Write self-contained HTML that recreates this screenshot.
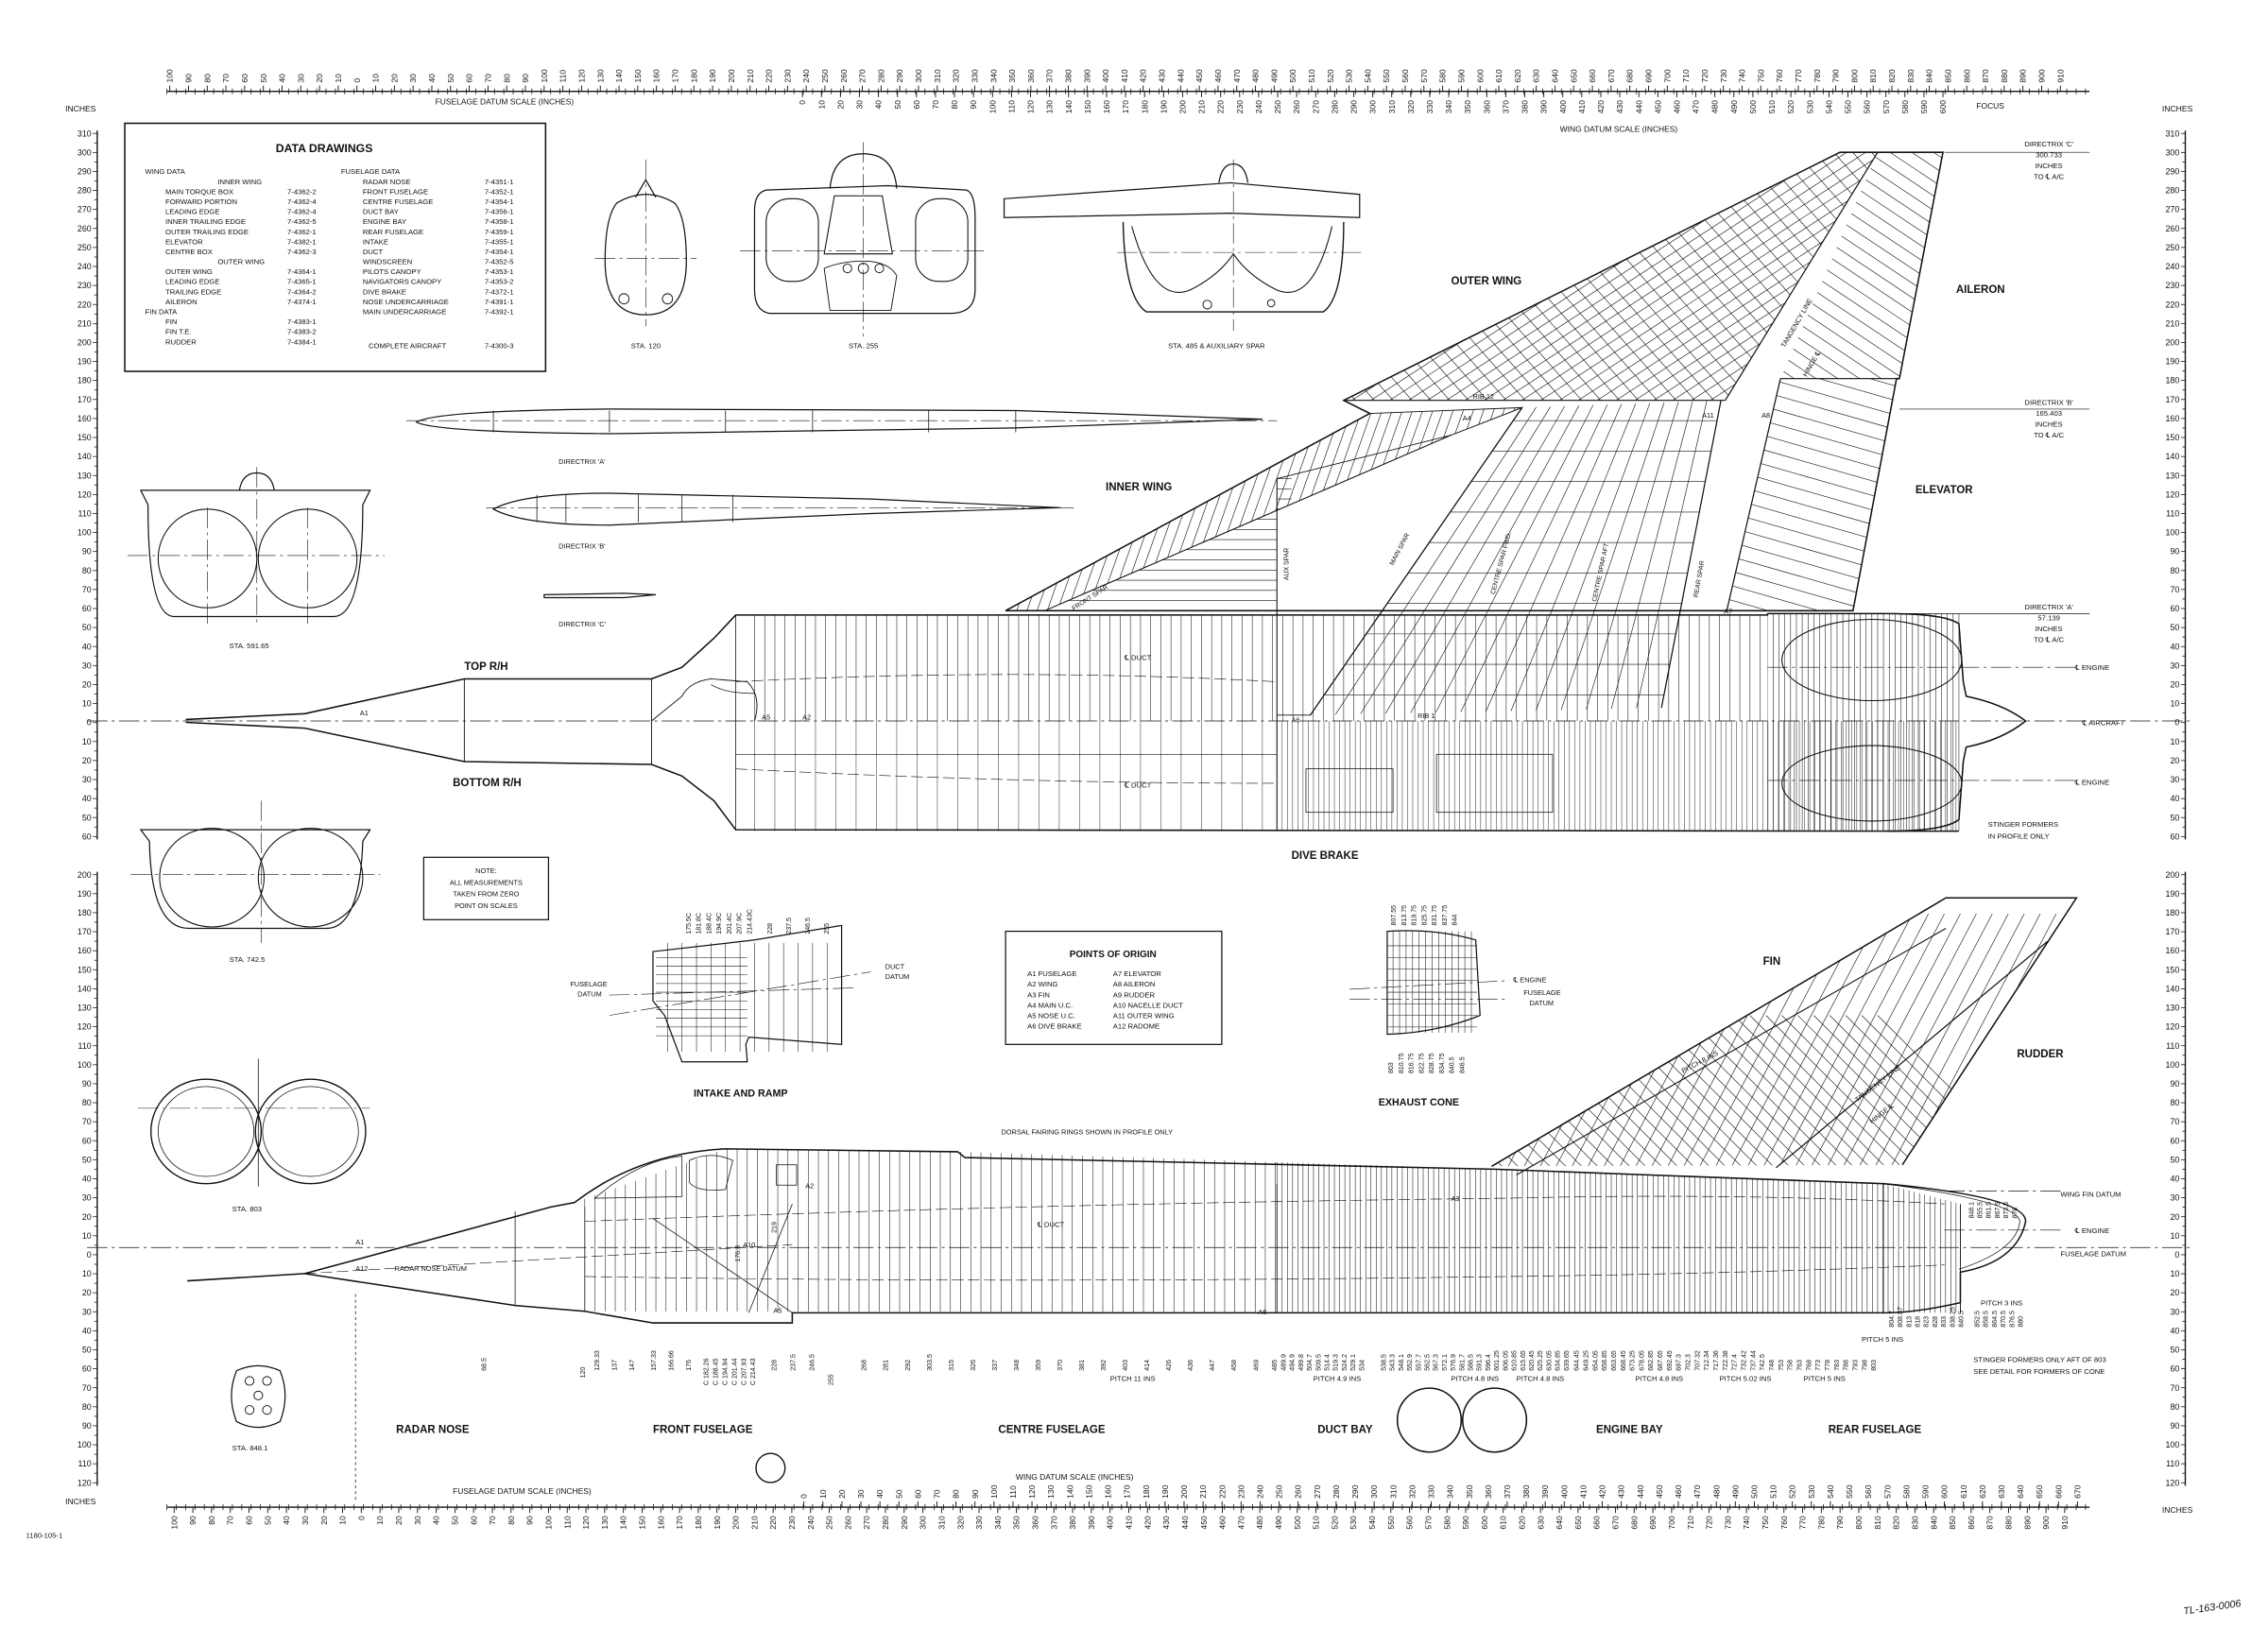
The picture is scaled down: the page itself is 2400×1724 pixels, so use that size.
<!DOCTYPE html>
<html><head><meta charset="utf-8"><style>
html,body{margin:0;padding:0;background:#fff;}
svg{display:block;}
text{font-family:"Liberation Sans",sans-serif;fill:#111;}
.b{font-weight:bold;}
</style></head><body>
<svg id="s" xmlns="http://www.w3.org/2000/svg" width="2400" height="1724" viewBox="0 0 1563 1123" preserveAspectRatio="none">
<rect width="1563" height="1123" fill="#fff"/>
<defs>
<clipPath id="cOuter"><polygon points="926,276 1268,105 1294,105 1189,276"/></clipPath>
<clipPath id="cCentre"><polygon points="903,493 1049,281 1186,276 1145,488"/></clipPath>
<clipPath id="cInnerLE"><polygon points="693,421 944,285 1049,281 1000,300 720,421"/></clipPath>
<clipPath id="cInnerMid"><polygon points="720,421 1000,300 880,330 880,421"/></clipPath>
<clipPath id="cAil"><polygon points="1294,105 1339,105 1309,261 1227,261"/></clipPath>
<clipPath id="cElev"><polygon points="1227,261 1307,261 1277,421 1190,421"/></clipPath>
<clipPath id="cFin"><polygon points="1028,804 1341,619 1431,619 1311,803"/></clipPath>
<clipPath id="cSide"><polygon points="403,904 396,829 500,792 660,794 1030,806 1298,816 1351,830 1351,905"/></clipPath>
<clipPath id="cTopBody"><polygon points="507,424 1218,424 1218,497 507,497"/></clipPath>
<clipPath id="cBotBody"><polygon points="507,497 1350,497 1350,573 507,573"/></clipPath>
<clipPath id="cNoz"><rect x="1218" y="423" width="135" height="150"/></clipPath>
</defs>
<g id="g" fill="none" stroke="#111" stroke-width="0.8"></g>
<g id="t"></g>
</svg>
<script>
var NS="http://www.w3.org/2000/svg",G=document.getElementById('g'),T=document.getElementById('t');
function el(tag,a,p){var e=document.createElementNS(NS,tag);for(var k in a)e.setAttribute(k,a[k]);(p||G).appendChild(e);return e;}
function L(x1,y1,x2,y2,w,extra){var a={x1:x1,y1:y1,x2:x2,y2:y2};if(w)a['stroke-width']=w;if(extra)for(var k in extra)a[k]=extra[k];return el('line',a);}
function P(d,w,extra){var a={d:d};if(w)a['stroke-width']=w;if(extra)for(var k in extra)a[k]=extra[k];return el('path',a);}
function tx(x,y,s,sz,cls,anchor,rot){var a={x:x,y:y,'font-size':sz||5};if(cls)a['class']=cls;if(anchor)a['text-anchor']=anchor;if(rot)a.transform='rotate('+rot+' '+x+' '+y+')';var e=el('text',a,T);e.textContent=s;return e;}
var DASH={'stroke-dasharray':'14 3 2 3'};
var fus=[];for(var v=-100;v<=910;v+=10)fus.push(v);
var wTop=[];for(v=0;v<=600;v+=10)wTop.push(v);
var wBot=[];for(v=0;v<=680;v+=10)wBot.push(v);
(function(){var y=63;L(115,y,1440,y,0.9);for(var x=115;x<=1440;x+=6.45)L(x,y-2,x,y+2,0.5);
 fus.forEach(function(v){var x=246+v*1.29;L(x,y-4,x,y,0.6);tx(x+2,y-6,String(Math.abs(v)),5.6,null,'start',-90);});
 wTop.forEach(function(v){var x=553+v*1.31;L(x,y,x,y+4,0.6);tx(x+2,y+6,String(v),5.6,null,'end',-90);});})();
(function(){var y=1039;L(115,y,1440,y,0.9);for(var x=115;x<=1440;x+=6.45)L(x,y-2,x,y+2,0.5);
 wBot.forEach(function(v){var x=554+v*1.31;if(x>1440)return;L(x,y-4,x,y,0.6);tx(x+2,y-6,String(v),5.6,null,'start',-90);});
 fus.forEach(function(v){var x=249+v*1.29;if(x>1442)return;L(x,y,x,y+4,0.6);tx(x+2,y+6,String(Math.abs(v)),5.6,null,'end',-90);});})();
tx(300,72,'FUSELAGE DATUM SCALE  (INCHES)',5.5);
tx(1075,91,'WING DATUM SCALE  (INCHES)',5.5);
tx(1362,75,'FOCUS',5.5);
tx(700,1020,'WING DATUM SCALE  (INCHES)',5.5);
tx(312,1030,'FUSELAGE DATUM SCALE   (INCHES)',5.5);
function vscale(xl,y0,vmax,vmin){
 var y1=y0+(vmax-vmin)*1.31;L(xl,y0-2,xl,y1+2,0.9);
 for(var v=vmax;v>=vmin;v-=5){var y=y0+(vmax-v)*1.31;L(xl-(v%10==0?3:2),y,xl,y,0.5);}
 for(v=vmax;v>=vmin;v-=10){var y=y0+(vmax-v)*1.31;tx(xl-4,y+2,String(Math.abs(v)),5.8,null,'end');}
}
vscale(67,92,310,-60);vscale(67,603,200,-120);
vscale(1506,92,310,-60);vscale(1506,603,200,-120);
tx(45,77,'INCHES',5.6);tx(1490,77,'INCHES',5.6);
tx(45,1037,'INCHES',5.6);tx(1490,1043,'INCHES',5.6);
tx(18,1060,'1180-105-1',5);
tx(1505,1113,'TL-163-0006',7,null,null,-8).setAttribute('font-style','italic');
el('rect',{x:86,y:85,width:290,height:171,'stroke-width':1});
tx(190,105,'DATA DRAWINGS',8,'b');
var left=[['WING DATA',100,''],['INNER WING',150,''],['MAIN TORQUE BOX',114,'7-4362-2'],['FORWARD PORTION',114,'7-4362-4'],['LEADING EDGE',114,'7-4362-4'],['INNER TRAILING EDGE',114,'7-4362-5'],['OUTER TRAILING EDGE',114,'7-4362-1'],['ELEVATOR',114,'7-4382-1'],['CENTRE BOX',114,'7-4362-3'],['OUTER WING',150,''],['OUTER WING',114,'7-4364-1'],['LEADING EDGE',114,'7-4365-1'],['TRAILING EDGE',114,'7-4364-2'],['AILERON',114,'7-4374-1'],['FIN DATA',100,''],['FIN',114,'7-4383-1'],['FIN T.E.',114,'7-4383-2'],['RUDDER',114,'7-4384-1']];
left.forEach(function(r,i){var y=120+i*6.9;tx(r[1],y,r[0],5);if(r[2])tx(198,y,r[2],5);});
var right=[['FUSELAGE DATA',235,''],['RADAR NOSE',250,'7-4351-1'],['FRONT FUSELAGE',250,'7-4352-1'],['CENTRE FUSELAGE',250,'7-4354-1'],['DUCT BAY',250,'7-4356-1'],['ENGINE BAY',250,'7-4358-1'],['REAR FUSELAGE',250,'7-4359-1'],['INTAKE',250,'7-4355-1'],['DUCT',250,'7-4354-1'],['WINDSCREEN',250,'7-4352-5'],['PILOTS CANOPY',250,'7-4353-1'],['NAVIGATORS CANOPY',250,'7-4353-2'],['DIVE BRAKE',250,'7-4372-1'],['NOSE UNDERCARRIAGE',250,'7-4391-1'],['MAIN UNDERCARRIAGE',250,'7-4392-1']];
right.forEach(function(r,i){var y=120+i*6.9;tx(r[1],y,r[0],5);if(r[2])tx(334,y,r[2],5);});
tx(254,240,'COMPLETE AIRCRAFT',5);tx(334,240,'7-4300-3',5);
P('M425,140 Q445,128 465,140 Q473,150 473,180 Q473,217 445,217 Q417,217 417,180 Q417,150 425,140Z');
P('M438,136 L445,124 L452,136');L(445,110,445,225,0.4,DASH);L(410,178,480,178,0.4,DASH);
el('circle',{cx:430,cy:206,r:3.5,'stroke-width':0.6});el('circle',{cx:460,cy:206,r:3.5,'stroke-width':0.6});
tx(445,240,'STA. 120',5,null,'middle');
P('M528,131 L612,128 L666,131 Q672,133 672,150 L672,200 Q672,216 655,216 L530,216 Q520,214 520,200 L520,145 Q520,133 528,131Z');
P('M572,130 Q574,106 595,106 Q616,106 618,130');
el('rect',{x:528,y:137,width:36,height:57,rx:16,'stroke-width':0.7});el('rect',{x:631,y:137,width:36,height:57,rx:16,'stroke-width':0.7});
P('M575,135 L608,135 L615,175 L568,175Z',0.7);P('M568,185 Q580,180 595,180 Q612,180 618,190 L614,214 L572,214Z',0.6);
el('circle',{cx:584,cy:185,r:3,'stroke-width':0.6});el('circle',{cx:595,cy:185,r:3.5,'stroke-width':0.6});el('circle',{cx:606,cy:185,r:3,'stroke-width':0.6});
L(595,98,595,232,0.4,DASH);L(510,173,680,173,0.4,DASH);
tx(595,240,'STA. 255',5,null,'middle');
P('M692,137 L848,126 L937,134 L937,150 L848,147 L692,150Z');P('M840,126 Q842,113 850,113 Q858,113 860,126');
P('M774,153 Q775,205 790,215 L912,215 Q926,205 926,153',0.9);
P('M780,156 Q795,210 820,200 Q840,190 850,175 Q860,190 880,200 Q905,210 918,156',0.7);
L(850,110,850,228,0.4,DASH);L(770,174,940,174,0.4,DASH);
el('circle',{cx:832,cy:210,r:3,'stroke-width':0.6});el('circle',{cx:876,cy:209,r:2.5,'stroke-width':0.6});
tx(805,240,'STA. 485 & AUXILIARY SPAR',5);
P('M287,291 Q300,283 420,282 L700,283 L870,289 L700,295 L420,299 Q300,298 287,291Z');L(280,290,880,290,0.4,DASH);
[340,420,500,560,640,700].forEach(function(x){L(x,283,x,298,0.5);});
tx(385,320,"DIRECTRIX 'A'",4.8);
P('M340,351 Q360,340 420,340 L600,344 L731,350 L600,354 L420,362 Q360,362 340,351Z');L(335,350,740,350,0.4,DASH);
[370,390,440,470,505].forEach(function(x){L(x,341,x,360,0.5);});
tx(385,378,"DIRECTRIX 'B'",4.8);
P('M375,410 L430,409 L452,410 L430,412 L375,412Z');tx(385,432,"DIRECTRIX 'C'",4.8);
P('M97,338 L255,338 L250,348 Q250,425 230,425 L120,425 Q102,425 102,348Z');P('M165,338 Q167,326 177,326 Q187,326 189,338');
el('ellipse',{cx:143,cy:385,rx:34,ry:34,'stroke-width':0.7});el('ellipse',{cx:212,cy:385,rx:34,ry:34,'stroke-width':0.7});
L(177,322,177,432,0.4,DASH);L(88,383,265,383,0.4,DASH);L(143,350,143,432,0.4,DASH);L(212,350,212,432,0.4,DASH);
tx(158,447,'STA. 591.65',5);
P('M97,572 L255,572 L250,580 Q248,640 225,640 L130,640 Q104,640 103,580Z');
el('ellipse',{cx:146,cy:605,rx:36,ry:34,'stroke-width':0.7});el('ellipse',{cx:214,cy:605,rx:36,ry:34,'stroke-width':0.7});
L(180,552,180,650,0.4,DASH);L(90,603,262,603,0.4,DASH);
tx(158,663,'STA. 742.5',5);
el('ellipse',{cx:142,cy:780,rx:38,ry:36,'stroke-width':0.9});el('ellipse',{cx:214,cy:780,rx:38,ry:36,'stroke-width':0.9});
el('ellipse',{cx:142,cy:780,rx:33,ry:31,'stroke-width':0.5});el('ellipse',{cx:214,cy:780,rx:33,ry:31,'stroke-width':0.5});
L(178,730,178,818,0.5);L(95,764,255,764,0.4,DASH);
tx(160,835,'STA. 803',5);
P('M163,945 Q178,938 193,945 Q200,962 193,980 Q178,988 163,980 Q156,962 163,945Z');
[[172,952],[184,952],[178,962],[172,972],[184,972]].forEach(function(c){el('circle',{cx:c[0],cy:c[1],r:3,'stroke-width':0.6});});
tx(160,1000,'STA. 848.1',5);
L(60,497,1510,497,0.45,DASH);
P('M693,421 L944,285 L926,276 L1268,105 L1339,105 L1309,261 L1307,261 L1277,421 Z',1);
L(926,276,1189,276,0.7);L(1227,261,1309,261,0.7);L(1294,105,1189,276,0.8);L(1186,276,1145,488,0.8);L(1227,261,1190,421,0.8);
L(903,493,1049,281,0.8);L(880,330,880,421,0.7);L(720,421,1000,300,0.7);L(1049,281,944,285,0.6);
function lines(clip,w,fn){var g=el('g',{'clip-path':'url(#'+clip+')','stroke-width':w||0.35});fn(function(x1,y1,x2,y2){el('line',{x1:x1,y1:y1,x2:x2,y2:y2},g);});}
lines('cOuter',0.4,function(l){for(var i=-400;i<400;i+=13){l(900+i,320,1300+i,60);}for(i=-300;i<500;i+=13){l(900+i,60,1130+i,320);}});
lines('cCentre',0.4,function(l){for(var k=0;k<=14;k++){var f=k/14;l(903+(1145-903)*f,493+(488-493)*f,1049+(1186-1049)*f,281+(276-281)*f);}for(var y=290;y<500;y+=21)l(880,y,1200,y);});
lines('cInnerLE',0.4,function(l){for(var i=-300;i<400;i+=7){l(700+i,440,760+i,270);}});
lines('cInnerMid',0.4,function(l){for(var y=330;y<421;y+=7)l(700,y,890,y);});
lines('cAil',0.4,function(l){for(var i=-200;i<200;i+=10){l(1220,120+i,1340,200+i);}});
lines('cElev',0.4,function(l){for(var i=-120;i<220;i+=10){l(1180,250+i,1320,290+i);}});
P('M880,330 L1000,300 L1049,281 L903,493 L880,493',0.6);
P('M128,496 L210,492 L320,468 L449,468 L470,460 L492,440 L507,424 L1218,424 L1218,423',1);
P('M128,498 L210,502 L320,525 L449,527 L470,535 L492,552 L507,572 L1350,573',1);
L(320,468,320,525,0.6);L(449,468,449,527,0.6);L(507,424,507,572,0.5);L(880,421,880,573,0.7);
P('M449,497 L470,480 Q475,470 490,468 L515,470 Q525,480 520,497',0.6);
P('M490,472 Q500,478 520,478',0.5);
lines('cTopBody',0.35,function(l){for(var x=520;x<1218;x+=7)l(x,424,x,497);});
lines('cBotBody',0.3,function(l){for(var x=880;x<1350;x+=3.6)l(x,497,x,573);for(var x=520;x<880;x+=14)l(x,497,x,573);});
L(507,520,880,520,0.4);P('M507,470 Q700,460 880,470',0.4,{'stroke-dasharray':'8 3'});P('M507,530 Q700,540 880,540',0.4,{'stroke-dasharray':'8 3'});
el('rect',{x:900,y:530,width:60,height:30,'stroke-width':0.5});el('rect',{x:990,y:520,width:80,height:40,'stroke-width':0.5});
P('M1218,423 L1300,423 Q1340,423 1350,430 L1353,470 L1355,480 Q1380,485 1396,497 Q1380,510 1355,515 L1353,525 L1350,565 Q1340,573 1300,573',1);
lines('cNoz',0.35,function(l){for(var x=1218;x<1353;x+=4)l(x,423,x,573);});
el('ellipse',{cx:1290,cy:455,rx:62,ry:28,'stroke-width':0.7});el('ellipse',{cx:1290,cy:540,rx:62,ry:26,'stroke-width':0.7});
L(1218,460,1430,460,0.4,DASH);L(1218,538,1430,538,0.4,DASH);
L(60,860,1510,860,0.45,DASH);L(1340,821,1420,821,0.45,DASH);L(1340,848,1420,848,0.45,DASH);
P('M129,883 L210,878 L380,832 L396,829 Q440,795 500,792 L660,794 L665,798 L1030,806',1);
P('M1028,804 L1341,619 L1431,619 L1311,803',1);
P('M1030,806 L1298,816 Q1396,825 1396,842 Q1390,870 1351,877 L1351,898 Q1320,905 1300,905 L546,905 L546,912 L450,912 L403,904 L355,900 L210,878',1);
L(1298,816,1298,905,0.5);L(880,816,880,905,0.6);L(403,832,403,904,0.5);L(355,835,355,900,0.5);L(1351,830,1351,905,0.6);
P('M410,826 Q440,800 470,797 L470,825Z',0.5);P('M475,800 Q490,793 505,800 L500,820 Q480,822 475,815Z',0.5);
el('rect',{x:535,y:803,width:14,height:14,'stroke-width':0.5});
L(450,840,546,905,0.5);L(546,830,516,905,0.5);L(210,878,546,858,0.4,{'stroke-dasharray':'8 3'});
lines('cSide',0.35,function(l){for(var x=403;x<880;x+=7)l(x,790,x,910);for(x=880;x<1351;x+=3.6)l(x,790,x,910);});
lines('cFin',0.4,function(l){for(var i=-300;i<300;i+=11){l(1000+i,700,1200+i,900);}for(i=-200;i<400;i+=11){l(1000+i,820,1100+i,630);}});
L(1411,649,1224,805,0.8);L(1341,640,1045,810,0.7);
P('M1298,816 Q1390,828 1392,842 Q1390,862 1350,875',0.5);
P('M403,842 Q700,830 1040,826 Q1200,822 1340,830',0.4,{'stroke-dasharray':'8 3'});P('M403,880 Q700,885 1040,880 Q1200,878 1340,872',0.4,{'stroke-dasharray':'8 3'});
el('circle',{cx:985,cy:979,r:22,'stroke-width':1});el('circle',{cx:1030,cy:979,r:22,'stroke-width':1});el('circle',{cx:531,cy:1012,r:10,'stroke-width':0.9});
L(245,892,245,1035,0.5,{'stroke-dasharray':'2 2'});
el('rect',{x:292,y:591,width:86,height:43,'stroke-width':0.8});
tx(335,602,'NOTE:',4.8,null,'middle');tx(335,610,'ALL MEASUREMENTS',4.8,null,'middle');tx(335,618,'TAKEN FROM ZERO',4.8,null,'middle');tx(335,626,'POINT ON SCALES',4.8,null,'middle');
el('rect',{x:693,y:642,width:149,height:78,'stroke-width':0.8});
tx(767,660,'POINTS OF ORIGIN',6.5,'b','middle');
var po=[['A1 FUSELAGE','A7 ELEVATOR'],['A2 WING','A8 AILERON'],['A3 FIN','A9 RUDDER'],['A4 MAIN U.C.','A10 NACELLE DUCT'],['A5 NOSE U.C.','A11 OUTER WING'],['A6 DIVE BRAKE','A12 RADOME']];
po.forEach(function(r,i){tx(708,673+i*7.2,r[0],5);tx(767,673+i*7.2,r[1],5);});
P('M450,656 L520,648 L580,638 L580,720 L516,715 L514,720 L515,732 L470,732 L458,700 L450,690Z',0.8);
(function(){var g=el('g',{'stroke-width':0.35});for(var x=460;x<580;x+=10)el('line',{x1:x,y1:650,x2:x,y2:725},g);for(var y=660;y<720;y+=6)el('line',{x1:452,y1:y,x2:515,y2:y},g);})();
L(420,686,590,681,0.4,DASH);L(420,700,600,670,0.4,DASH);
tx(393,680,'FUSELAGE',4.8);tx(398,687,'DATUM',4.8);tx(610,668,'DUCT',4.8);tx(610,675,'DATUM',4.8);
var iv=['175.5C','181.8C','188.4C','194.9C','201.4C','207.9C','214.43C'];iv.forEach(function(s,i){tx(476+i*7,644,s,4.6,null,'start',-90);});
['228','237.5','246.5','255'].forEach(function(s,i){tx(532+i*13,644,s,4.6,null,'start',-90);});
tx(478,756,'INTAKE AND RAMP',7,'b');
P('M956,642 Q990,640 1017,648 L1020,700 Q990,712 956,713Z',0.8);
(function(){var g=el('g',{'stroke-width':0.35});for(var x=960;x<1018;x+=4.5)el('line',{x1:x,y1:642,x2:x,y2:712},g);for(var y=652;y<710;y+=8)el('line',{x1:956,y1:y,x2:1018,y2:y},g);})();
L(930,682,1040,676,0.4,DASH);L(930,689,1040,689,0.4,DASH);
tx(1043,677,'℄ ENGINE',4.8);tx(1050,686,'FUSELAGE',4.8);tx(1054,693,'DATUM',4.8);
['807.55','813.75','819.75','825.75','831.75','837.75','844'].forEach(function(s,i){tx(962+i*7,638,s,4.6,null,'start',-90);});
['803','810.75','816.75','822.75','828.75','834.75','840.5','846.5'].forEach(function(s,i){tx(960+i*7,740,s,4.6,null,'start',-90);});
tx(950,762,'EXHAUST CONE',7,'b');
tx(320,462,'TOP R/H',7.5,'b');tx(312,542,'BOTTOM R/H',7.5,'b');tx(890,592,'DIVE BRAKE',7.5,'b');
tx(762,338,'INNER WING',7.5,'b');tx(1000,196,'OUTER WING',7.5,'b');tx(1348,202,'AILERON',7.5,'b');tx(1320,340,'ELEVATOR',7.5,'b');
tx(1215,665,'FIN',7.5,'b');tx(1390,729,'RUDDER',7.5,'b');
tx(273,988,'RADAR NOSE',7.5,'b');tx(450,988,'FRONT FUSELAGE',7.5,'b');tx(688,988,'CENTRE FUSELAGE',7.5,'b');tx(908,988,'DUCT BAY',7.5,'b');tx(1100,988,'ENGINE BAY',7.5,'b');tx(1260,988,'REAR FUSELAGE',7.5,'b');
tx(690,782,'DORSAL FAIRING RINGS SHOWN IN PROFILE ONLY',4.8);
tx(775,455,'℄ DUCT',5);tx(775,543,'℄ DUCT',5);tx(715,846,'℄ DUCT',5);
tx(272,876,'RADAR NOSE DATUM',4.8);
[['A1',248,493],['A5',525,496],['A2',553,496],['A6',890,498],['RIB 1',977,495],['A7',1188,423],['A11',1173,288],['A8',1214,288],['A4',1008,290],['RIB 12',1015,275],['A1',245,858],['A12',245,876],['A10',512,860],['A2',555,819],['A5',533,905],['A6',867,906],['A3',1000,828]].forEach(function(a){tx(a[1],a[2],a[0],4.8);});
tx(740,421,'FRONT SPAR',4.5,null,null,-33);tx(888,400,'AUX SPAR',4.5,null,null,-90);tx(960,390,'MAIN SPAR',4.5,null,null,-62);tx(1030,410,'CENTRE SPAR FWD.',4.5,null,null,-75);tx(1100,415,'CENTRE SPAR AFT',4.5,null,null,-78);tx(1170,412,'REAR SPAR',4.5,null,null,-80);
tx(1230,240,'TANGENCY LINE',4.8,null,null,-60);tx(1245,260,'HINGE ℄',4.8,null,null,-60);
tx(1160,740,'PITCH 8 INS',4.8,null,null,-28);tx(1280,760,'TANGENCY LINE',4.8,null,null,-38);tx(1290,775,'HINGE ℄',4.8,null,null,-38);
function ann(y,lines){lines.forEach(function(s,i){tx(1412,y+i*7.5,s,5,null,'middle');});}
L(1340,105,1440,105,0.45);L(1309,282,1440,282,0.45);L(1277,423,1440,423,0.45);
ann(101,["DIRECTRIX 'C'",'300.733','INCHES','TO ℄ A/C']);ann(279,["DIRECTRIX 'B'",'165.403','INCHES','TO ℄ A/C']);ann(420,["DIRECTRIX 'A'",'57.139','INCHES','TO ℄ A/C']);
tx(1430,462,'℄ ENGINE',5);tx(1435,500,'℄ AIRCRAFT',5);tx(1430,541,'℄ ENGINE',5);
tx(1370,570,'STINGER FORMERS',5);tx(1370,578,'IN PROFILE ONLY',5);
tx(1420,825,'WING FIN DATUM',5);tx(1430,850,'℄ ENGINE',5);tx(1420,866,'FUSELAGE DATUM',5);
tx(1365,900,'PITCH 3 INS',5);tx(1360,939,'STINGER FORMERS ONLY AFT OF 803',5);tx(1360,947,'SEE DETAIL FOR FORMERS OF CONE',5);
tx(765,952,'PITCH 11 INS',5);tx(905,952,'PITCH 4.9 INS',5);tx(1000,952,'PITCH 4.8 INS',5);tx(1045,952,'PITCH 4.8 INS',5);tx(1127,952,'PITCH 4.8 INS',5);tx(1185,952,'PITCH 5.02 INS',5);tx(1243,952,'PITCH 5 INS',5);tx(1283,925,'PITCH 5 INS',5);
var st=[[335,'68.5',945],[403,'120',950],[413,'129.33',945],[425,'137',945],[437,'147',945],[452,'157.33',945],[464,'166.66',945],[476,'176',945]];
['182.26','188.45','194.94','201.44','207.93','214.43'].forEach(function(s,i){st.push([488+i*6.5,'C '+s,955]);});
['228','237.5','246.5','255'].forEach(function(s,i){st.push([535+i*13,s,i==3?955:945]);});
['268','281','292','303.5','315','326','337','348','359','370','381','392','403','414','426','436','447','458','469'].forEach(function(s,i){st.push([597+i*15,s,945]);});
['485','489.9','494.9','499.8','504.7','509.5','514.4','519.3','524.2','529.1','534'].forEach(function(s,i){st.push([880+i*6,s,945]);});
['538.5','543.3','548.1','552.9','557.7','562.5','567.3','572.1','576.9','581.7','586.5','591.3','596.4','601.25','606.05','610.85','615.65','620.45','625.25','630.05','634.85','639.65'].forEach(function(s,i){st.push([955+i*6,s,945]);});
['644.45','649.25','654.05','658.85','663.65','668.45','673.25','678.05','682.85','687.65','692.45','697.3','702.3','707.32','712.34','717.36','722.38','727.4','732.42','737.44','742.5','748','753','758','763','768','773','778','783','788','793','798','803'].forEach(function(s,i){st.push([1088+i*6.4,s,945]);});
['804.7','808.57','813','818','823','828','833','838.25','840.5'].forEach(function(s,i){st.push([1305+i*6,s,915]);});
['852.5','858.5','864.5','870.5','876.5','880'].forEach(function(s,i){st.push([1364+i*6,s,915]);});
['848.1','855.5','861.5','867.5','873.5','878'].forEach(function(s,i){st.push([1360+i*6,s,840]);});
st.forEach(function(a){tx(a[0],a[2],a[1],4.6,null,'start',-90);});
['176.3','219'].forEach(function(s,i){tx(510+i*25,870-i*20,s,4.6,null,'start',-90);});
</script>
</body></html>
